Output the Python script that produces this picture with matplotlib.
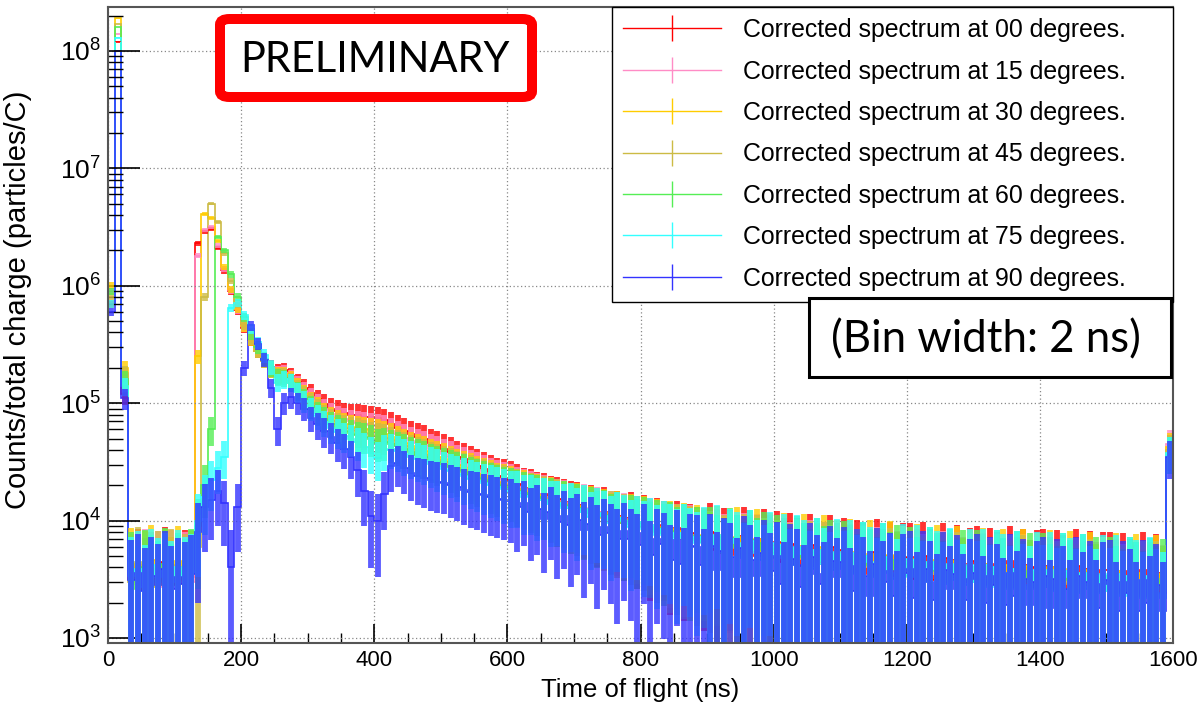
import matplotlib.pyplot as plt
import numpy as np
from matplotlib.lines import Line2D
from matplotlib.patches import FancyBboxPatch
from matplotlib.ticker import LogLocator, MultipleLocator

plt.rcParams['font.family'] = ['Liberation Sans', 'DejaVu Sans']
plt.rcParams['mathtext.default'] = 'regular'

# Time of flight bins (ns) - values in 10 ns steps
BIN_WIDTH = 10
BIN_EDGES = np.arange(0, 1600 + BIN_WIDTH, BIN_WIDTH)

# Counts/total charge in units of 1e3 particles/C, one value per bin
counts_00 = [
    700, 120000, 120, 3.2, 4.1, 2.6, 3.8, 3.0, 4.4, 2.9,
    3.5, 4.0, 3.3, 2300, 2900, 3050, 2100, 1350, 900, 620,
    440, 345, 280, 236, 202, 186, 190, 172, 152, 136,
    121, 108, 98, 90, 86, 82, 80, 79, 77, 76,
    75, 72, 67, 62, 58, 55, 52, 50, 46, 44,
    41, 38.5, 35, 33.5, 31, 29, 27.5, 25.5, 24, 23,
    22, 20.5, 19, 18.5, 17, 16.8, 15.5, 15.2, 14.4, 13.9,
    13.6, 12.2, 12.6, 11.1, 11.9, 10.3, 11.0, 9.6, 10.5, 9.0,
    9.8, 8.1, 9.1, 8.4, 7.3, 8.6, 7.0, 7.9, 7.4, 6.6,
    8.0, 5.6, 7.2, 6.8, 5.1, 7.4, 5.5, 5.0, 7.0, 5.3,
    6.6, 4.4, 6.3, 5.6, 4.1, 6.2, 4.6, 4.3, 5.9, 4.4,
    5.6, 3.7, 5.3, 4.8, 3.5, 5.4, 3.8, 5.0, 3.4, 4.8,
    4.9, 3.2, 5.0, 4.1, 3.1, 4.8, 3.3, 4.6, 3.0, 4.3,
    4.5, 2.9, 4.3, 3.8, 2.8, 4.5, 3.0, 4.2, 2.8, 4.0,
    4.1, 2.7, 4.0, 3.5, 2.6, 4.1, 2.9, 3.9, 2.5, 3.8,
    3.8, 2.5, 3.7, 3.2, 2.4, 3.8, 2.6, 3.6, 2.4, 40,
]
counts_15 = [
    900, 140000, 150, 3.6, 2.9, 4.2, 3.1, 3.9, 2.7, 4.0,
    3.3, 3.8, 3.0, 1800, 3000, 3150, 2200, 1400, 920, 630,
    450, 350, 282, 234, 200, 180, 182, 166, 145, 128,
    112, 99, 89, 81, 76, 73, 70, 68, 67, 65,
    64, 62, 58, 55, 51, 48, 46, 44, 41, 39,
    37, 35, 32, 30.5, 28.5, 27, 25.5, 24, 22.5, 21.5,
    20.5, 19.2, 18.6, 17.4, 16.9, 15.8, 15.4, 14.6, 14.1, 13.2,
    12.8, 12.9, 11.6, 11.9, 10.8, 11.0, 10.1, 10.3, 9.5, 9.6,
    8.9, 9.1, 8.2, 8.3, 7.7, 7.9, 7.2, 7.6, 6.9, 7.1,
    6.6, 6.9, 6.1, 6.5, 5.9, 6.3, 5.7, 6.1, 5.5, 5.8,
    5.3, 5.6, 5.0, 5.4, 4.8, 5.2, 4.7, 5.0, 4.6, 4.8,
    4.4, 4.7, 4.2, 4.5, 4.0, 4.4, 4.1, 4.3, 3.9, 4.1,
    3.8, 4.1, 3.6, 3.9, 3.5, 3.9, 3.6, 3.8, 3.4, 3.7,
    3.4, 3.7, 3.3, 3.6, 3.2, 3.5, 3.3, 3.6, 3.1, 3.4,
    3.2, 3.4, 3.0, 3.3, 3.0, 3.3, 2.9, 3.2, 2.9, 3.1,
    2.9, 3.2, 2.8, 3.1, 2.7, 3.0, 2.8, 3.0, 2.7, 45,
]
counts_30 = [
    1000, 190000, 200, 4.3, 3.2, 3.9, 4.6, 2.8, 4.1, 3.4,
    4.5, 3.1, 3.9, 250, 4100, 3800, 2400, 1450, 940, 640,
    450, 345, 278, 230, 195, 175, 176, 160, 138, 120,
    104, 92, 82, 75, 70, 66, 63, 61, 60, 58,
    57, 55, 52, 49, 46, 43, 41, 39, 37, 35,
    33.5, 31.5, 29.5, 28, 26.5, 25, 23.8, 22.6, 21.4, 20.5,
    19.8, 18.4, 18.0, 16.9, 16.5, 15.3, 15.1, 14.2, 13.9, 13.0,
    13.2, 12.1, 12.4, 11.3, 11.5, 10.4, 10.8, 9.8, 10.2, 9.4,
    9.6, 8.5, 8.9, 8.1, 8.5, 7.6, 8.1, 7.3, 7.6, 7.0,
    6.5, 7.5, 5.7, 6.2, 7.3, 5.4, 5.9, 7.0, 5.2, 6.3,
    5.3, 6.3, 4.6, 5.1, 6.1, 4.4, 4.9, 5.9, 4.3, 5.2,
    4.4, 5.4, 3.9, 4.3, 5.2, 3.7, 4.2, 5.1, 3.6, 4.5,
    3.8, 4.7, 3.4, 3.8, 4.6, 3.3, 3.7, 4.5, 3.2, 4.0,
    3.5, 4.3, 3.1, 3.5, 4.2, 3.0, 3.4, 4.1, 2.9, 3.7,
    3.2, 4.0, 2.9, 3.2, 3.9, 2.8, 3.1, 3.8, 2.7, 3.4,
    3.0, 3.7, 2.7, 3.0, 3.6, 2.6, 2.9, 3.5, 2.5, 42,
]
counts_45 = [
    800, 170000, 180, 3.0, 4.4, 3.3, 2.7, 3.9, 3.2, 4.2,
    2.9, 3.6, 4.0, 6, 800, 5000, 3500, 1900, 1100, 700,
    470, 350, 280, 230, 194, 172, 172, 156, 134, 116,
    100, 88, 78, 71, 66, 62, 60, 58, 56, 54,
    53, 51, 48, 45, 43, 40, 38, 36.5, 34.5, 33,
    31.5, 30, 28, 26.8, 25.3, 24, 23, 21.8, 20.8, 20,
    19.0, 18.6, 17.1, 16.8, 15.9, 15.6, 14.5, 14.4, 13.4, 13.3,
    12.5, 12.6, 11.5, 11.7, 10.6, 10.9, 9.9, 10.2, 9.3, 9.7,
    8.8, 9.0, 8.0, 8.4, 7.4, 7.9, 7.1, 7.5, 6.8, 7.2,
    6.5, 6.8, 6.0, 6.6, 5.8, 6.2, 5.6, 6.0, 5.4, 5.9,
    5.2, 5.5, 4.9, 5.4, 4.7, 5.1, 4.6, 5.0, 4.5, 4.9,
    4.3, 4.6, 4.1, 4.5, 4.0, 4.3, 3.9, 4.3, 3.8, 4.2,
    3.7, 4.0, 3.5, 3.9, 3.5, 3.8, 3.4, 3.8, 3.3, 3.7,
    3.4, 3.6, 3.2, 3.6, 3.2, 3.5, 3.1, 3.5, 3.1, 3.4,
    3.1, 3.4, 3.0, 3.3, 2.9, 3.2, 2.9, 3.2, 2.8, 3.1,
    2.9, 3.1, 2.7, 3.1, 2.7, 3.0, 2.7, 3.0, 2.6, 40,
]
counts_60 = [
    900, 160000, 160, 3.8, 2.6, 4.0, 3.5, 3.0, 4.3, 2.8,
    3.7, 3.2, 4.1, 9, 20, 60, 2600, 2000, 1250, 800,
    540, 390, 300, 240, 198, 168, 165, 150, 128, 110,
    95, 83, 74, 67, 62, 58, 56, 54, 52, 50,
    46, 47, 45, 43, 41, 38.5, 36.5, 35, 33, 31.5,
    30, 28.5, 27, 25.8, 24.4, 23.2, 22.2, 21.2, 20.2, 19.4,
    18.9, 17.8, 17.2, 16.4, 15.8, 15.0, 14.7, 13.9, 13.7, 12.8,
    12.9, 11.9, 12.0, 11.0, 11.2, 10.2, 10.5, 9.6, 9.9, 9.0,
    9.3, 8.3, 8.7, 7.8, 8.2, 7.3, 7.8, 7.0, 7.4, 6.7,
    7.4, 6.0, 5.3, 7.1, 5.9, 5.0, 6.8, 5.6, 6.4, 4.9,
    6.0, 4.8, 4.3, 5.8, 4.9, 4.1, 5.6, 4.5, 5.3, 4.0,
    5.1, 4.0, 3.6, 5.0, 4.2, 3.4, 4.8, 3.8, 4.6, 3.4,
    4.4, 3.4, 3.1, 4.4, 3.7, 3.0, 4.2, 3.3, 4.0, 3.0,
    4.0, 3.1, 2.8, 4.0, 3.3, 2.7, 3.9, 3.0, 3.7, 2.7,
    3.7, 2.8, 2.6, 3.7, 3.1, 2.5, 3.6, 2.8, 3.4, 2.5,
    3.4, 2.6, 2.4, 3.4, 2.9, 2.3, 3.3, 2.6, 3.2, 38,
]
counts_75 = [
    700, 130000, 140, 3.4, 3.9, 2.7, 4.2, 3.3, 3.7, 3.0,
    4.0, 3.4, 3.6, 10, 16, 22, 28, 35, 650, 720,
    560, 430, 330, 255, 205, 150, 160, 150, 125, 105,
    90, 78, 69, 62, 57, 53, 50, 47, 42, 38,
    34, 40, 41, 39, 37, 35, 33.5, 32, 30.5, 29,
    27.5, 26.3, 25, 24, 22.8, 21.8, 20.8, 20.0, 19.2, 18.4,
    17.6, 17.5, 16.0, 16.1, 14.9, 15.0, 13.8, 14.0, 12.9, 13.1,
    11.8, 12.6, 10.7, 11.6, 10.9, 9.6, 10.5, 9.9, 8.8, 9.7,
    8.4, 9.2, 7.6, 8.5, 7.9, 6.9, 7.8, 7.2, 6.4, 7.3,
    6.0, 7.6, 5.4, 6.9, 6.4, 4.8, 6.7, 5.3, 4.6, 6.4,
    4.8, 6.2, 4.2, 5.9, 5.2, 3.9, 5.6, 4.3, 3.8, 5.4,
    3.9, 5.3, 3.5, 5.0, 4.4, 3.3, 4.9, 3.6, 3.2, 4.7,
    3.3, 4.6, 3.0, 4.4, 3.9, 2.9, 4.3, 3.1, 2.8, 4.2,
    3.0, 4.2, 2.7, 4.0, 3.6, 2.6, 3.9, 2.8, 2.6, 3.8,
    2.7, 3.8, 2.5, 3.7, 3.3, 2.4, 3.6, 2.6, 2.4, 3.5,
    2.5, 3.5, 2.3, 3.4, 3.1, 2.2, 3.4, 2.4, 2.2, 38,
]
counts_90 = [
    600, 100000, 110, 3.1, 3.6, 2.5, 3.4, 2.8, 3.9, 2.6,
    3.3, 2.9, 3.5, 8, 13, 15, 18, 14, 4, 13,
    200, 460, 320, 235, 135, 60, 100, 112, 100, 90,
    75, 66, 58, 52, 46, 41, 35, 27, 18, 11,
    10, 17, 29, 31, 28, 25.5, 24, 23, 22, 21.5,
    21, 20, 19.2, 18.3, 17.6, 17, 16.4, 15.8, 15.4, 15.0,
    14.6, 13.1, 14.0, 11.8, 12.6, 10.4, 11.9, 9.8, 10.9, 9.1,
    10.2, 8.3, 9.4, 7.6, 8.9, 7.9, 6.9, 8.1, 7.0, 6.2,
    7.9, 5.1, 6.9, 6.3, 4.6, 6.8, 4.3, 6.1, 5.9, 4.2,
    6.1, 3.8, 5.5, 4.9, 3.3, 5.8, 4.6, 3.4, 5.3, 3.7,
    5.0, 2.9, 4.7, 4.2, 2.7, 4.9, 3.5, 2.9, 4.5, 3.3,
    4.4, 2.5, 4.1, 3.4, 2.3, 4.3, 3.0, 3.7, 2.3, 3.6,
    3.9, 2.2, 3.9, 3.0, 2.1, 3.8, 2.6, 3.5, 2.1, 3.2,
    3.6, 2.0, 3.4, 2.8, 1.9, 3.6, 2.3, 3.2, 1.9, 3.0,
    3.4, 1.8, 3.2, 2.6, 1.8, 3.4, 2.2, 3.0, 1.8, 2.9,
    3.1, 1.7, 3.0, 2.4, 1.7, 3.1, 2.0, 2.8, 1.7, 35,
]

series = [counts_00, counts_15, counts_30, counts_45, counts_60, counts_75, counts_90]
angles = ['00', '15', '30', '45', '60', '75', '90']
colors = ['#ff0000', '#ff8cc6', '#ffcc00', '#ccbb44', '#55ee55', '#33ffff', '#3333ff']

# counting error: err = sqrt(scale * counts)
POISSON_SCALE = 4500.0

fig = plt.figure(figsize=(12.01, 7.16), dpi=100)
ax = fig.add_axes([108 / 1201, 1 - 643 / 716, 1065 / 1201, 636 / 716])

centers = BIN_EDGES[:-1] + BIN_WIDTH / 2
for vals, color in zip(series, colors):
    v = np.array(vals) * 1e3
    err = np.sqrt(POISSON_SCALE * v)
    lo = np.clip(v - err, 1.0, None)
    ax.vlines(centers, lo, v + err, color=color, lw=4.2, alpha=0.8)
    ax.stairs(v, BIN_EDGES, color=color, lw=1.2)

ax.set_yscale('log')
ax.set_xlim(0, 1600)
ax.set_ylim(906, 2.37e8)
ax.xaxis.set_major_locator(MultipleLocator(200))
ax.xaxis.set_minor_locator(MultipleLocator(50))
ax.yaxis.set_major_locator(LogLocator(base=10, numticks=12))
ax.yaxis.set_minor_locator(LogLocator(base=10, subs=np.arange(2, 10), numticks=12))
ax.tick_params(axis='y', which='major', direction='in', length=23, width=1.2, labelsize=19, pad=5)
ax.tick_params(axis='y', which='minor', direction='in', length=11, width=1.0)
ax.tick_params(axis='x', which='major', direction='in', length=14, width=1.2, labelsize=16, pad=5)
ax.tick_params(axis='x', which='minor', direction='in', length=7, width=1.0)
ax.grid(True, which='major', color='#888888', ls=(0, (1, 2)), lw=0.9)
for s in ax.spines.values():
    s.set_color('#555555')
    s.set_linewidth(1.5)

ax.set_xlabel('Time of flight (ns)', fontsize=18.5, labelpad=5)
ax.set_ylabel('Counts/total charge (particles/C)', fontsize=21)
ax.yaxis.set_label_coords(-0.071, 0.539)

handles = [Line2D([], [], color=c, lw=1.0, marker='|', markersize=19, markeredgewidth=1.0)
           for c in colors]
labels = ['Corrected spectrum at %s degrees.' % a for a in angles]
leg = ax.legend(handles, labels, loc='upper left', mode='expand',
                bbox_to_anchor=(504 / 1065, 0, 1 - 504 / 1065, 1.0),
                borderaxespad=0, fontsize=17.9, frameon=True, fancybox=False,
                edgecolor='black', framealpha=1, borderpad=0.45, labelspacing=0.70,
                handlelength=3.94, handletextpad=0.88)
leg.get_frame().set_linewidth(1.0)

# overlay boxes
prelim = FancyBboxPatch((220 / 1201, 1 - 97 / 716), 312 / 1201, 78 / 716,
                        boxstyle='round,pad=0,rounding_size=0.008', transform=fig.transFigure,
                        facecolor='white', edgecolor='#ff0000', lw=7.2, zorder=10)
fig.patches.append(prelim)
fig.text(375.5 / 1201, 1 - 60 / 716, 'PRELIMINARY', fontsize=30, family='Lato',
         ha='center', va='center', zorder=11)

binbox = FancyBboxPatch((808.5 / 1201, 1 - 376.5 / 716), 362 / 1201, 79 / 716,
                        boxstyle='square,pad=0', transform=fig.transFigure,
                        facecolor='white', edgecolor='black', lw=2.2, zorder=10)
fig.patches.append(binbox)
fig.text(985.5 / 1201, 1 - 340 / 716, '(Bin width: 2 ns)', fontsize=31.5, family='Lato',
         ha='center', va='center', zorder=11)

plt.savefig('out.png', dpi=100)
